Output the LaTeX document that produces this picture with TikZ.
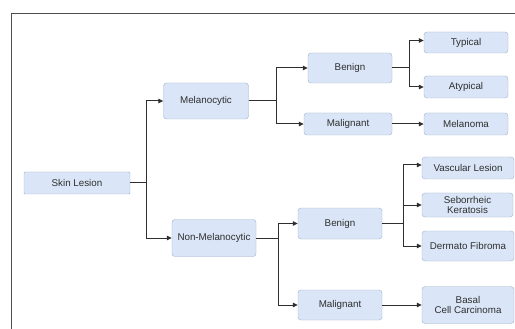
\documentclass[tikz,border=0pt]{standalone}
\usepackage{fontspec}
\setmainfont{Liberation Sans}
\usepackage{tikz}
\usetikzlibrary{positioning,arrows.meta}
\definecolor{boxfill}{HTML}{DAE6F7}
\definecolor{boxline}{HTML}{9CB0CA}
\definecolor{ink}{HTML}{2E2E2E}

\begin{document}
\begin{tikzpicture}[
  x = 1pt,
  y = -1pt,
  box/.style = {
    draw = boxline,
    fill = boxfill,
    rectangle,
    rounded corners = 3pt,
    text = ink,
    align = center,
    inner sep = 1pt,
    font = \fontsize{9.8}{10.5}\selectfont,
  },
  root/.style = {
    box,
    rounded corners = 1pt,
  },
  link/.style = {
    draw = ink,
    line width = 1pt,
    ->,
  },
  >={Triangle[length=5pt,width=4.5pt]},
]

  \useasboundingbox (0,0) rectangle (515,329);

  % frame
  \draw[ink!85, line width=0.9pt] (11,329) -- (11,13) -- (515,13);

  \node[root,minimum width=106pt,minimum height=22pt] (skin) at (77,183) {Skin Lesion};

  \node[box,minimum width=85pt,minimum height=36pt] (mel) at (206,101) {Melanocytic};
  \node[box,minimum width=84pt,minimum height=37pt] (nonmel) at (214,238) {Non-Melanocytic};

  \node[box,minimum width=84pt,minimum height=30pt] (ben1) at (350,68) {Benign};
  \node[box,minimum width=88pt,minimum height=22pt] (mal1) at (348,124) {Malignant};
  \node[box,minimum width=84pt,minimum height=31pt] (ben2) at (340,223.5) {Benign};
  \node[box,minimum width=84pt,minimum height=30pt] (mal2) at (340,305) {Malignant};

  \node[box,minimum width=84pt,minimum height=21pt] (typ) at (466,42.5) {Typical};
  \node[box,minimum width=84pt,minimum height=22pt] (atyp) at (466,87) {Atypical};
  \node[box,minimum width=84pt,minimum height=22pt] (melan) at (466,124) {Melanoma};

  \node[box,minimum width=92pt,minimum height=22pt] (vasc) at (468,168) {Vascular Lesion};
  \node[box,minimum width=91pt,minimum height=24pt] (seb) at (467.5,205) {Seborrheic\\Keratosis};
  \node[box,minimum width=92pt,minimum height=30pt] (derm) at (468,246) {Dermato Fibroma};
  \node[box,minimum width=92pt,minimum height=37pt] (basal) at (468,305) {Basal\\Cell Carcinoma};

  \path[link] (skin.east) -- ++(16,0) |- (mel.west);
  \path[link] (skin.east) -- ++(16,0) |- (nonmel.west);

  \path[link] (mel.east) -- ++(28,0) |- (ben1.west);
  \path[link] (mel.east) -- ++(28,0) |- (mal1.west);

  \path[link] (ben1.east) -- ++(17,0) |- ([yshift=2pt]typ.west);
  \path[link] (ben1.east) -- ++(17,0) |- (atyp.west);
  \path[link] (mal1.east) -- (melan.west);

  \path[link] (nonmel.east) -- ++(22,0) |- (ben2.west);
  \path[link] (nonmel.east) -- ++(22,0) |- (mal2.west);

  \path[link] (ben2.east) -- ++(21,0) |- ([yshift=3pt]vasc.west);
  \path[link] (ben2.east) -- ++(21,0) |- (seb.west);
  \path[link] (ben2.east) -- ++(21,0) |- (derm.west);
  \path[link] (mal2.east) -- (basal.west);

\end{tikzpicture}
\end{document}
